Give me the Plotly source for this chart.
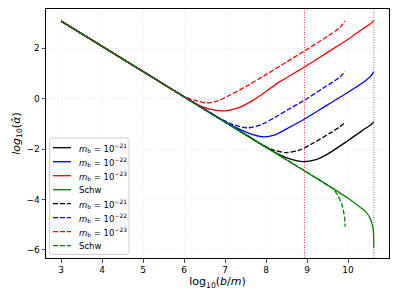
import plotly.graph_objects as go

# ---- data ----
x_red_solid = [3, 5, 6.0, 6.3, 6.6, 6.96, 7.3, 7.7, 8.34, 8.95, 9.5, 10.0, 10.37, 10.55, 10.63]
y_red_solid = [3.07, 1.07, 0.07, -0.22, -0.41, -0.49, -0.38, -0.05, 0.67, 1.26, 1.83, 2.35, 2.78, 2.97, 3.1]

x_blue_solid = [3, 6, 7.0, 7.4, 7.7, 7.95, 8.2, 8.5, 8.95, 9.5, 10.0, 10.4, 10.55, 10.63]
y_blue_solid = [3.07, 0.07, -0.92, -1.25, -1.44, -1.52, -1.45, -1.2, -0.8, -0.25, 0.25, 0.68, 0.88, 1.07]

x_black_solid = [3, 7.5, 8.0, 8.3, 8.6, 8.9, 9.2, 9.5, 9.97, 10.37, 10.55, 10.63]
y_black_solid = [3.07, -1.43, -1.93, -2.2, -2.4, -2.5, -2.43, -2.2, -1.7, -1.24, -1.05, -0.93]

x_green_solid = [3, 5, 7, 9, 9.6, 10.0, 10.29, 10.45, 10.55, 10.6, 10.62, 10.63]
y_green_solid = [3.07, 1.07, -0.93, -2.93, -3.53, -3.95, -4.3, -4.52, -4.78, -5.05, -5.3, -5.9]

x_red_dash = [3, 5.5, 6.0, 6.3, 6.55, 6.8, 7.1, 7.5, 8.0, 8.5, 9.0, 9.5, 9.8, 9.93]
y_red_dash = [3.07, 0.57, 0.08, -0.09, -0.17, -0.1, 0.12, 0.47, 0.95, 1.45, 1.95, 2.47, 2.82, 3.08]

x_blue_dash = [3, 6.5, 6.9, 7.2, 7.55, 7.9, 8.2, 8.5, 8.95, 9.4, 9.8, 9.93]
y_blue_dash = [3.07, -0.43, -0.81, -1.03, -1.16, -1.02, -0.76, -0.47, -0.05, 0.42, 0.85, 1.07]

x_black_dash = [3, 7.5, 7.9, 8.2, 8.5, 8.8, 9.1, 9.56, 9.8, 9.94]
y_black_dash = [3.07, -1.43, -1.83, -2.05, -2.14, -2.05, -1.81, -1.37, -1.12, -0.93]

x_green_dash = [3, 7, 9.5, 9.65, 9.76, 9.85, 9.9, 9.92, 9.93]
y_green_dash = [3.07, -0.93, -3.43, -3.6, -3.87, -4.2, -4.55, -4.8, -5.08]

vlines_x = [8.94, 10.63]
vlines_color = ["red", "#555555"]

x_ticks = [3, 4, 5, 6, 7, 8, 9, 10]
y_ticks = [-6, -4, -2, 0, 2]

label_21 = "<i>m</i><sub>b</sub> = 10<sup>−21</sup>"
label_22 = "<i>m</i><sub>b</sub> = 10<sup>−22</sup>"
label_23 = "<i>m</i><sub>b</sub> = 10<sup>−23</sup>"

series = [
    (x_black_solid, y_black_solid, "black", "solid", label_21),
    (x_blue_solid, y_blue_solid, "blue", "solid", label_22),
    (x_red_solid, y_red_solid, "red", "solid", label_23),
    (x_green_solid, y_green_solid, "green", "solid", "Schw"),
    (x_black_dash, y_black_dash, "black", "dash", label_21),
    (x_blue_dash, y_blue_dash, "blue", "dash", label_22),
    (x_red_dash, y_red_dash, "red", "dash", label_23),
    (x_green_dash, y_green_dash, "green", "dash", "Schw"),
]

DASH = "5px,2px"

# plot-area geometry (pixels) used to place the hand-drawn legend
W, H = 399, 299
ML, MR, MT, MB = 46, 10, 9, 41
PW, PH = W - ML - MR, H - MT - MB


def px_to_paper_x(px):
    return (px - ML) / PW


def py_to_paper_y(py):
    return (H - MB - py) / PH


fig = go.Figure()
for xs, ys, c, d, name in series:
    fig.add_trace(go.Scatter(
        x=xs, y=ys, mode="lines", name=name, showlegend=False, hoverinfo="skip",
        line=dict(color=c, width=1.3, dash=(DASH if d == "dash" else "solid"),
                  shape="spline", smoothing=0.8),
    ))

for xv, cv in zip(vlines_x, vlines_color):
    fig.add_shape(type="line", xref="x", yref="paper", x0=xv, x1=xv, y0=0, y1=1,
                  line=dict(color=cv, width=0.8, dash="1px,1.5px"))

# legend box (rounded)
bx0, bx1 = px_to_paper_x(49.5), px_to_paper_x(129)
by0, by1 = py_to_paper_y(254.5), py_to_paper_y(138)
rx, ry = 3 / PW, 3 / PH
path = (f"M {bx0+rx},{by0} L {bx1-rx},{by0} Q {bx1},{by0} {bx1},{by0+ry} "
        f"L {bx1},{by1-ry} Q {bx1},{by1} {bx1-rx},{by1} L {bx0+rx},{by1} "
        f"Q {bx0},{by1} {bx0},{by1-ry} L {bx0},{by0+ry} Q {bx0},{by0} {bx0+rx},{by0} Z")
fig.add_shape(type="path", xref="paper", yref="paper", path=path,
              fillcolor="rgba(255,255,255,0.85)", line=dict(color="#d0d0d0", width=1),
              layer="above")

row0, row_step = 147.7, 14.0
for i, (_, _, c, d, name) in enumerate(series):
    yy = py_to_paper_y(row0 + i * row_step)
    fig.add_shape(type="line", xref="paper", yref="paper",
                  x0=px_to_paper_x(53), x1=px_to_paper_x(71), y0=yy, y1=yy,
                  line=dict(color=c, width=1.3, dash=(DASH if d == "dash" else "solid")),
                  layer="above")
    fig.add_annotation(xref="paper", yref="paper", x=px_to_paper_x(77), y=yy,
                       xanchor="left", yanchor="middle", text=name, showarrow=False,
                       font=dict(family="DejaVu Sans", size=8.5, color="black"))

font = dict(family="DejaVu Sans", size=9, color="black")
fig.update_layout(
    width=W, height=H,
    margin=dict(l=ML, r=MR, t=MT, b=MB, autoexpand=False),
    paper_bgcolor="white", plot_bgcolor="white",
    font=font,
    showlegend=False,
    hovermode=False,
)
fig.update_xaxes(range=[2.63, 11.0], tickvals=x_ticks, ticks="outside", ticklen=3.5,
                 showline=True, linecolor="black", linewidth=1, mirror=True,
                 showgrid=True, gridcolor="#e4e4e4", griddash="1px,2px", gridwidth=0.8,
                 zeroline=False, automargin=False,
                 title=dict(text="log<sub>10</sub>(<i>b</i>/<i>m</i>)", standoff=3))
fig.update_yaxes(range=[-6.32, 3.55], tickvals=y_ticks, ticks="outside", ticklen=3.5,
                 showline=True, linecolor="black", linewidth=1, mirror=True,
                 showgrid=True, gridcolor="#e4e4e4", griddash="1px,2px", gridwidth=0.8,
                 zeroline=False, automargin=False,
                 title=dict(text="<i>log</i><sub>10</sub>(<i>α̂</i>)", standoff=3))

fig.write_html("out.html",
               config={"displayModeBar": False, "staticPlot": True},
               post_script="document.body.style.margin='0';document.body.style.padding='0';")
